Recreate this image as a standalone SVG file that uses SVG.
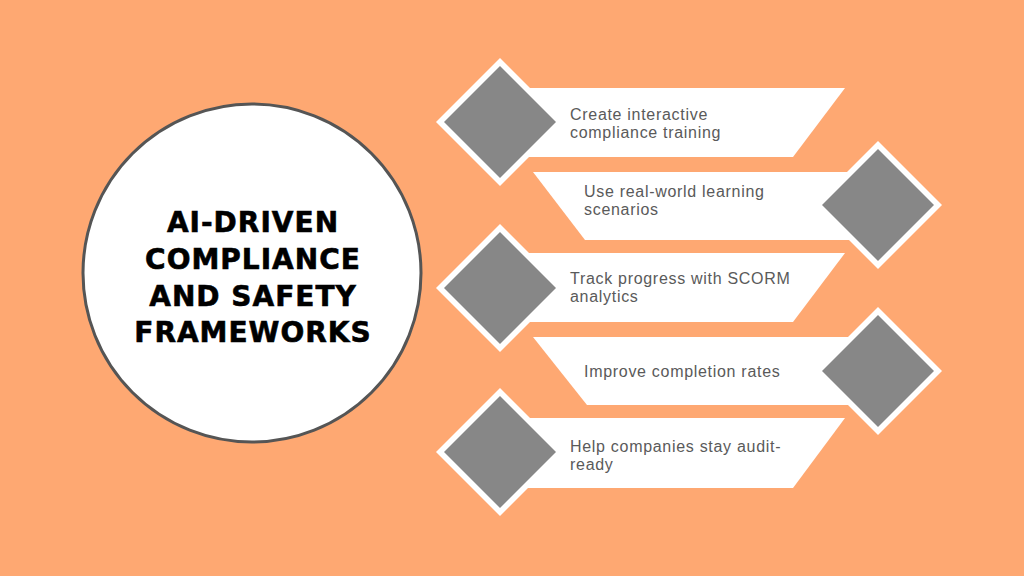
<svg xmlns="http://www.w3.org/2000/svg" width="1024" height="576" viewBox="0 0 1024 576">
<style>
.banner{fill:#ffffff}
.dout{fill:#ffffff}
.din{fill:#878787}
.lbl{font-family:"Liberation Sans",Arial,sans-serif;font-size:16px;letter-spacing:0.7px;fill:#5a5a5a}
.title{font-family:"DejaVu Sans","Noto Sans",sans-serif;font-weight:bold;font-size:28px;letter-spacing:1px;fill:#000000;stroke:#000000;stroke-width:0.6px;text-anchor:middle}
</style>
<defs>
<g id="dia">
<polygon class="dout" points="0,-64 64,0 0,64 -64,0"/>
<polygon class="din" points="0,-56 56,0 0,56 -56,0"/>
</g>
</defs>
<rect width="1024" height="576" fill="#fea872"/>
<g id="connectors"></g>
<g id="center">
<circle cx="252" cy="273" r="169" fill="#ffffff" stroke="#555555" stroke-width="3"/>
<text class="title" x="253" y="232">AI-DRIVEN</text>
<text class="title" x="253" y="269">COMPLIANCE</text>
<text class="title" x="253" y="306">AND SAFETY</text>
<text class="title" x="253" y="342">FRAMEWORKS</text>
</g>
<g id="item1">
<polygon class="banner" points="520,88 845,88 793,157 520,157"/>
<use href="#dia" x="500" y="122"/>
<text class="lbl" x="570" y="120">Create interactive</text>
<text class="lbl" x="570" y="138">compliance training</text>
</g>
<g id="item2">
<polygon class="banner" points="533,172 880,172 880,240 585,240"/>
<use href="#dia" x="878" y="205"/>
<text class="lbl" x="584" y="197">Use real-world learning</text>
<text class="lbl" x="584" y="215">scenarios</text>
</g>
<g id="item3">
<polygon class="banner" points="520,253 845,253 793,322 520,322"/>
<use href="#dia" x="500" y="288"/>
<text class="lbl" x="570" y="284">Track progress with SCORM</text>
<text class="lbl" x="570" y="302">analytics</text>
</g>
<g id="item4">
<polygon class="banner" points="533,337 880,337 880,405 587,405"/>
<use href="#dia" x="878" y="371"/>
<text class="lbl" x="584" y="377">Improve completion rates</text>
</g>
<g id="item5">
<polygon class="banner" points="520,418 845,418 793,488 520,488"/>
<use href="#dia" x="500" y="452"/>
<text class="lbl" x="570" y="452">Help companies stay audit-</text>
<text class="lbl" x="570" y="470">ready</text>
</g>
</svg>
